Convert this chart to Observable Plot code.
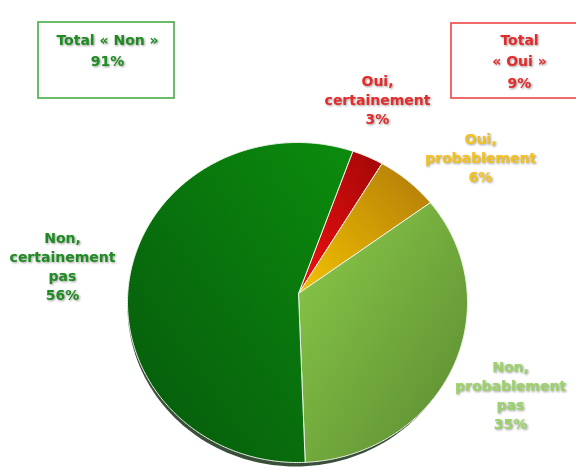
<!DOCTYPE html>
<html><head><meta charset="utf-8">
<script src="https://cdn.jsdelivr.net/npm/d3@7"></script>
<script src="https://cdn.jsdelivr.net/npm/@observablehq/plot@0.6"></script>
<style>
body{margin:0;background:#fff}
#chart text{filter: drop-shadow(1px 1.5px 1.2px rgba(0,0,0,0.4));}
</style></head><body><div id="chart"></div>
<script>
// ---- data ----
const categories = ["Oui, certainement", "Oui, probablement", "Non, probablement pas", "Non, certainement pas"];
const shares = [3, 6, 35, 56];
const sliceLabels = ["Oui,\ncertainement\n3%", "Oui,\nprobablement\n6%", "Non,\nprobablement\npas\n35%", "Non,\ncertainement\npas\n56%"];
const totalNames = ["Total « Non »", "Total\n« Oui »"];
const totalNon = shares[2] + shares[3];
const totalOui = shares[0] + shares[1];

// ---- layout & style ----
const W = 576, H = 468;
const pie = {cx: 297, cy: 302, rx: 170, ry: 160, ax: 298, ay: 293, startDeg: 19};
const labelColors = ["#e62a2a", "#f5c21b", "#9ad466", "#1f8c22"];
const labelPos = [[377, 98], [480, 156], [510, 394], [62, 265]];
const gradients = [
  {x1: 0, y1: 1, x2: 1, y2: 0, stops: ["#ee1010", "#a30707"]},
  {x1: 0, y1: 1, x2: 1, y2: 0, stops: ["#f3c200", "#b07a0a"]},
  {x1: 0, y1: 0, x2: 1, y2: 1, stops: ["#8ccb4a", "#5a8a30"]},
  {x1: 1, y1: 0, x2: 0, y2: 1, stops: ["#0b8c0d", "#06580c"]}
];
const boxes = [
  {x1: 38, x2: 174, y1: 22, y2: 98, stroke: "#5cb35c", tx: 107, ty: 48, text: totalNames[0] + "\n" + totalNon + "%", fill: "#1f8c22"},
  {x1: 451, x2: 582, y1: 23, y2: 98, stroke: "#ef5a5a", tx: 519, ty: 59, text: totalNames[1] + "\n" + totalOui + "%", fill: "#e62a2a"}
];

// ---- geometry from data ----
const a0 = pie.startDeg * Math.PI / 180;
const arcs = d3.pie().sort(null).startAngle(a0).endAngle(a0 + 2 * Math.PI)(shares);
const slicePts = [];
arcs.forEach((a, i) => {
  const n = Math.max(4, Math.ceil((a.endAngle - a.startAngle) / 0.01));
  slicePts.push({i, x: pie.ax, y: pie.ay});
  for (let k = 0; k <= n; k++) {
    const t = a.startAngle + (a.endAngle - a.startAngle) * k / n;
    slicePts.push({i, x: pie.cx + pie.rx * Math.sin(t), y: pie.cy - pie.ry * Math.cos(t)});
  }
  slicePts.push({i, x: pie.ax, y: pie.ay});
});
const shadowPts = d3.range(0, 361, 2).map(d => {
  const t = d * Math.PI / 180;
  return {x: pie.cx - 2 + (pie.rx - 2) * Math.sin(t), y: pie.cy + 4 + pie.ry * Math.cos(t)};
});
const labels = sliceLabels.map((t, i) => ({text: t, x: labelPos[i][0], y: labelPos[i][1], fill: labelColors[i]}));

const defsMark = () => {
  const defs = d3.create("svg:defs");
  gradients.forEach((g, i) => {
    const lg = defs.append("linearGradient").attr("id", "g" + i)
      .attr("x1", g.x1).attr("y1", g.y1).attr("x2", g.x2).attr("y2", g.y2);
    lg.append("stop").attr("offset", "0%").attr("stop-color", g.stops[0]);
    lg.append("stop").attr("offset", "100%").attr("stop-color", g.stops[1]);
  });
  return defs.node();
};

const chart = Plot.plot({
  width: W, height: H, margin: 0,
  x: {domain: [0, W], range: [0, W], axis: null},
  y: {domain: [0, H], range: [0, H], axis: null},
  color: {type: "identity"},
  style: {background: "#fff", fontFamily: "DejaVu Sans, sans-serif"},
  marks: [
    defsMark,
    Plot.line(shadowPts, {x: "x", y: "y", fill: "#183018", fillOpacity: 0.85, stroke: "none"}),
    Plot.line(slicePts, {x: "x", y: "y", z: "i", fill: d => `url(#g${d.i})`, stroke: "#eef3ea", strokeWidth: 1, strokeLinejoin: "round"}),
    Plot.rect(boxes, {x1: "x1", x2: "x2", y1: "y1", y2: "y2", stroke: "stroke", strokeWidth: 1.8, fill: "none"}),
    Plot.text(boxes, {x: "tx", y: "ty", text: "text", fill: "fill", fontSize: 14, fontWeight: "bold", lineHeight: 1.55}),
    Plot.text(labels, {x: "x", y: "y", text: "text", fill: "fill", fontSize: 14, fontWeight: "bold", lineHeight: 1.36})
  ]
});
document.getElementById("chart").appendChild(chart);
</script></body></html>
